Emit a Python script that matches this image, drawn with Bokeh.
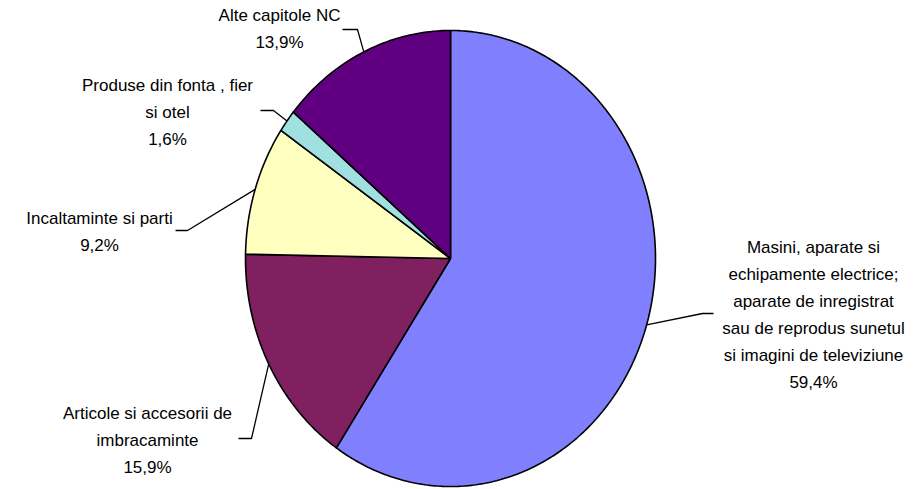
import numpy as np
from bokeh.plotting import figure
from bokeh.models import Range1d, ColumnDataSource
from bokeh.core.properties import value
from bokeh.embed import file_html
from bokeh.resources import INLINE

# ---- data ----
categories = [
    ["Masini, aparate si", "echipamente electrice;", "aparate de inregistrat",
     "sau de reprodus sunetul", "si imagini de televiziune"],
    ["Articole si accesorii de", "imbracaminte"],
    ["Incaltaminte si parti"],
    ["Produse din fonta , fier", "si otel"],
    ["Alte capitole NC"],
]
shares = [59.4, 15.9, 9.2, 1.6, 13.9]
colors = ["#8080FF", "#802060", "#FFFFC0", "#A0E0E0", "#600080"]

# ---- layout (image pixel coordinates) ----
cx, cy = 450, 258
rx, ry = 205, 228
label_pos = [(813, 247), (147, 413), (99, 218), (167, 85), (279, 15)]
elbows = [((713, 313), (702, 313)), ((238, 438), (251, 438)), ((175, 230), (187, 230)),
          ((260, 110), (273, 110)), ((342, 29), (357, 29))]
line_step = 27

W, H = 920, 489
p = figure(width=W, height=H, output_backend="svg", toolbar_location=None,
           x_range=Range1d(0, W), y_range=Range1d(H, 0),
           x_axis_type=None, y_axis_type=None, min_border=0)
p.grid.visible = False
p.outline_line_color = None
p.background_fill_color = "white"

total = sum(shares)
cum = np.cumsum([0] + shares) / total * 2 * np.pi
xs, ys = [], []
mids = []
for i in range(len(shares)):
    a0, a1 = cum[i], cum[i + 1]
    t = np.linspace(a0, a1, max(int((a1 - a0) * 80), 4))
    xs.append([cx] + list(cx + rx * np.sin(t)) + [cx])
    ys.append([cy] + list(cy - ry * np.cos(t)) + [cy])
    mids.append((a0 + a1) / 2)

p.patches(xs=xs, ys=ys, fill_color=colors, line_color="black", line_width=1.6)

# leader lines
lx, ly = [], []
for i, m in enumerate(mids):
    (x0, y0), (x1, y1) = elbows[i]
    lx.append([x0, x1, cx + rx * np.sin(m)])
    ly.append([y0, y1, cy - ry * np.cos(m)])
p.multi_line(xs=lx, ys=ly, line_color="black", line_width=1.3)

# labels
tx, ty, tt = [], [], []
for i, lines in enumerate(categories):
    all_lines = lines + [f"{shares[i]:.1f}%".replace(".", ",")]
    x0, y0 = label_pos[i]
    for j, s in enumerate(all_lines):
        tx.append(x0)
        ty.append(y0 + j * line_step)
        tt.append(s)
src = ColumnDataSource(dict(x=tx, y=ty, text=tt))
p.text(x="x", y="y", text="text", source=src, text_font=value("Liberation Sans"),
       text_font_size="17px", text_align="center", text_baseline="middle", text_color="black")

open("out.html", "w").write(file_html(p, INLINE))
